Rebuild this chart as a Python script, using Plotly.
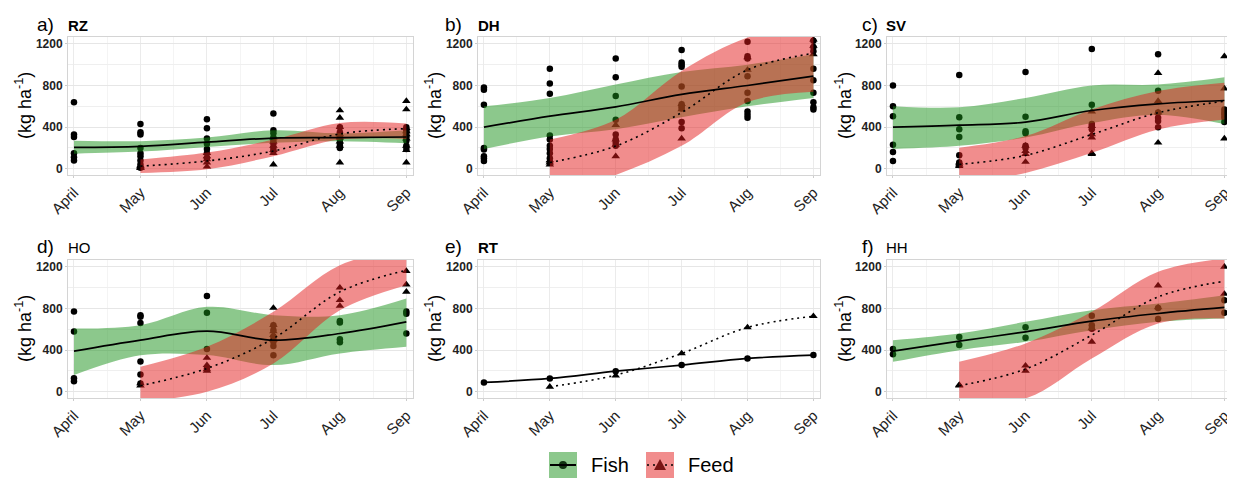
import plotly.graph_objects as go

# page body has an 8px margin: figure pixel = page pixel - OFF
OFF = 8
W, H = 1227, 472

# ---------------- data ----------------
months = ["April", "May", "Jun", "Jul", "Aug", "Sep"]
fish_x = [0, 1, 2, 3, 4, 5]
feed_x = [1, 2, 3, 4, 5]
y_ticks = [0, 400, 800, 1200]
y_tick_text = ["0", "400", "800", "1200"]

panel_letters = ["a)", "b)", "c)", "d)", "e)", "f)"]
panel_names = ["RZ", "DH", "SV", "HO", "RT", "HH"]
panel_name_bold = [True, True, True, False, True, False]

# RZ
rz_fish_pts = [[640, 330, 305, 150, 110, 80], [430, 350, 330, 200, 150, 120, 80, 40, 10],
               [475, 390, 290, 240, 190, 150, 100], [530, 370, 340, 300, 270, 240, 200, 170],
               [400, 350, 320, 300, 280, 250, 220, 200], [400, 370, 350, 320, 300, 270, 220, 190]]
rz_feed_pts = [[30, 20, 10, 5], [150, 120, 90, 60, 20], [300, 260, 220, 180, 150, 40],
               [560, 490, 400, 330, 300, 260, 220, 60], [650, 570, 390, 360, 330, 290, 220, 180, 60]]
rz_fish_mean = [205, 215, 255, 295, 300, 305]
rz_fish_lo = [145, 165, 210, 250, 265, 245]
rz_fish_hi = [270, 265, 300, 370, 340, 370]
rz_feed_mean = [25, 75, 170, 335, 385]
rz_feed_lo = [-40, -5, 120, 280, 285]
rz_feed_hi = [90, 155, 280, 440, 435]

# DH
dh_fish_pts = [[780, 760, 615, 200, 185, 120, 100, 75], [960, 820, 720, 320, 280, 220, 190, 150, 100, 60],
               [1060, 880, 700, 470, 330, 280, 250, 220], [1140, 1020, 1000, 980, 790, 620, 600, 580, 450, 390],
               [1220, 1080, 1060, 890, 730, 650, 550, 520, 490], [1230, 1170, 1130, 960, 850, 730, 640, 590, 570]]
dh_feed_pts = [[80, 60, 40], [420, 280, 230, 120], [620, 570, 290], [1070, 950], [1240, 1180, 1100]]
dh_fish_mean = [400, 505, 595, 714, 800, 890]
dh_fish_lo = [190, 310, 380, 495, 600, 680]
dh_fish_hi = [600, 680, 810, 930, 1000, 1100]
dh_feed_mean = [60, 218, 540, 950, 1110]
dh_feed_lo = [-250, -60, 220, 640, 740]
dh_feed_hi = [280, 470, 940, 1260, 1400]

# SV
sv_fish_pts = [[800, 600, 505, 230, 160, 75], [900, 495, 380, 305, 130, 60, 35],
               [930, 500, 360, 340, 220, 200], [1150, 615, 430, 410, 380],
               [1100, 750, 540, 490, 460, 400], [570, 540, 520, 490, 450]]
sv_feed_pts = [[60, 40, 25], [220, 170, 140, 65], [550, 410, 330, 300, 150, 140],
               [920, 650, 540, 250], [1080, 770, 290]]
sv_fish_mean = [400, 419, 448, 560, 624, 656]
sv_fish_lo = [190, 220, 300, 440, 520, 430]
sv_fish_hi = [600, 590, 680, 800, 810, 880]
sv_feed_mean = [42, 128, 330, 538, 650]
sv_feed_lo = [-150, -40, 154, 378, 474]
sv_feed_hi = [202, 314, 570, 746, 826]

# HO
ho_fish_pts = [[770, 580, 130, 100], [735, 720, 660, 290, 165, 80], [920, 760, 410, 220],
               [640, 590, 530, 500, 480, 440, 350], [680, 665, 505, 475], [770, 750, 560]]
ho_feed_pts = [[80, 60], [325, 255, 215, 200], [805, 640, 580, 545, 495], [1000, 880, 825], [1160, 1030, 960]]
ho_fish_mean = [390, 496, 582, 496, 560, 672]
ho_fish_lo = [160, 350, 352, 256, 368, 432]
ho_fish_hi = [608, 640, 816, 736, 736, 896]
ho_feed_mean = [58, 224, 512, 960, 1168]
ho_feed_lo = [-96, 0, 272, 784, 1024]
ho_feed_hi = [240, 432, 768, 1216, 1376]

# RT
rt_fish_pts = [[90], [128], [198], [256], [320], [352]]
rt_feed_pts = [[48], [154], [368], [618], [726]]
rt_fish_mean = [90, 128, 198, 256, 320, 352]
rt_feed_mean = [48, 160, 368, 618, 726]

# HH
hh_fish_pts = [[410, 360], [525, 450], [620, 520], [730, 640, 605], [805, 700], [880, 760]]
hh_feed_pts = [[65, 60], [250, 200], [610, 480], [1020, 810], [1200, 940]]
hh_fish_mean = [390, 486, 576, 678, 752, 810]
hh_fish_lo = [288, 400, 480, 592, 672, 704]
hh_fish_hi = [496, 560, 672, 784, 848, 928]
hh_feed_mean = [58, 218, 544, 912, 1062]
hh_feed_lo = [-96, -64, 320, 656, 704]
hh_feed_hi = [288, 464, 768, 1152, 1280]

panels = [
    dict(fp=rz_fish_pts, dp=rz_feed_pts, fm=rz_fish_mean, fl=rz_fish_lo, fh=rz_fish_hi,
         dm=rz_feed_mean, dl=rz_feed_lo, dh=rz_feed_hi),
    dict(fp=dh_fish_pts, dp=dh_feed_pts, fm=dh_fish_mean, fl=dh_fish_lo, fh=dh_fish_hi,
         dm=dh_feed_mean, dl=dh_feed_lo, dh=dh_feed_hi),
    dict(fp=sv_fish_pts, dp=sv_feed_pts, fm=sv_fish_mean, fl=sv_fish_lo, fh=sv_fish_hi,
         dm=sv_feed_mean, dl=sv_feed_lo, dh=sv_feed_hi),
    dict(fp=ho_fish_pts, dp=ho_feed_pts, fm=ho_fish_mean, fl=ho_fish_lo, fh=ho_fish_hi,
         dm=ho_feed_mean, dl=ho_feed_lo, dh=ho_feed_hi),
    dict(fp=rt_fish_pts, dp=rt_feed_pts, fm=rt_fish_mean, fl=None, fh=None,
         dm=rt_feed_mean, dl=None, dh=None),
    dict(fp=hh_fish_pts, dp=hh_feed_pts, fm=hh_fish_mean, fl=hh_fish_lo, fh=hh_fish_hi,
         dm=hh_feed_mean, dl=hh_feed_lo, dh=hh_feed_hi),
]

# ---------------- styling ----------------
FONT = "Arial, Liberation Sans, sans-serif"
GREEN = "rgba(25,145,25,0.5)"
RED = "rgba(228,28,28,0.5)"
GREEN_KEY = "rgb(140,200,140)"
RED_KEY = "rgb(241,141,141)"
DOT = "2px,4px"

# positions in page pixels (reference picture)
col_px = [(68, 413), (478, 820), (887, 1231)]
row_px = [(37, 175), (260, 398)]
ytitle_x = [23, 433, 843]
letter_x = [35, 443, 860]
name_x = [66, 476, 884]
title_y = [24, 246]


def px(x):
    return (x - OFF) / W


def py(y):
    return 1 - (y - OFF) / H


fig = go.Figure()
layout = dict(
    width=W, height=H, margin=dict(l=0, r=0, t=0, b=0, autoexpand=False),
    plot_bgcolor="white", paper_bgcolor="white", showlegend=False,
    font=dict(family=FONT, color="black"),
)
annotations = []
shapes = []


def flat(xs, pts):
    xx, yy = [], []
    for x, vals in zip(xs, pts):
        for v in vals:
            xx.append(x)
            yy.append(v)
    return xx, yy


for i, p in enumerate(panels):
    r, c = divmod(i, 3)
    k = "" if i == 0 else str(i + 1)
    xa, ya = "x" + k, "y" + k
    x0, x1 = col_px[c]
    y0, y1 = row_px[r]
    layout["xaxis" + k] = dict(
        domain=[px(x0), px(x1)], anchor=ya, range=[-0.09, 5.1], automargin=False,
        tickvals=fish_x, ticktext=months, tickangle=-45,
        tickfont=dict(size=15, color="#222222"),
        showgrid=True, gridcolor="#ebebeb", gridwidth=1,
        minor=dict(tickvals=[0.5, 1.5, 2.5, 3.5, 4.5], showgrid=True, gridcolor="#f4f4f4"),
        showline=True, mirror=True, linecolor="#d4d4d4", linewidth=1,
        ticks="outside", ticklen=2, tickcolor="#cccccc", zeroline=False,
    )
    layout["yaxis" + k] = dict(
        domain=[py(y1), py(y0)], anchor=xa, range=[-60, 1266], automargin=False,
        tickvals=y_ticks, ticktext=y_tick_text,
        tickfont=dict(size=12, color="#222222", family=FONT, weight="bold"),
        showgrid=True, gridcolor="#e6e6e6", gridwidth=1,
        minor=dict(tickvals=[200, 600, 1000], showgrid=True, gridcolor="#efefef"),
        showline=True, mirror=True, linecolor="#d4d4d4", linewidth=1,
        ticks="outside", ticklen=2, tickcolor="#cccccc", zeroline=False,
    )

    # points (under the ribbons, as in the original)
    fx, fy = flat(fish_x, p["fp"])
    fig.add_trace(go.Scatter(x=fx, y=fy, mode="markers", xaxis=xa, yaxis=ya,
                             marker=dict(symbol="circle", size=6.5, color="black"), name="Fish"))
    dx, dy = flat(feed_x, p["dp"])
    fig.add_trace(go.Scatter(x=dx, y=dy, mode="markers", xaxis=xa, yaxis=ya,
                             marker=dict(symbol="triangle-up", size=7.5, color="black"), name="Feed"))

    # ribbons
    if p["fl"] is not None:
        fig.add_trace(go.Scatter(x=fish_x, y=p["fl"], mode="lines", xaxis=xa, yaxis=ya,
                                 line=dict(width=0, shape="spline", color="rgba(0,0,0,0)"),
                                 hoverinfo="skip"))
        fig.add_trace(go.Scatter(x=fish_x, y=p["fh"], mode="lines", xaxis=xa, yaxis=ya,
                                 line=dict(width=0, shape="spline", color="rgba(0,0,0,0)"),
                                 fill="tonexty", fillcolor=GREEN, hoverinfo="skip"))
    if p["dl"] is not None:
        fig.add_trace(go.Scatter(x=feed_x, y=p["dl"], mode="lines", xaxis=xa, yaxis=ya,
                                 line=dict(width=0, shape="spline", color="rgba(0,0,0,0)"),
                                 hoverinfo="skip"))
        fig.add_trace(go.Scatter(x=feed_x, y=p["dh"], mode="lines", xaxis=xa, yaxis=ya,
                                 line=dict(width=0, shape="spline", color="rgba(0,0,0,0)"),
                                 fill="tonexty", fillcolor=RED, hoverinfo="skip"))

    # smooth lines
    fig.add_trace(go.Scatter(x=fish_x, y=p["fm"], mode="lines", xaxis=xa, yaxis=ya,
                             line=dict(color="black", width=1.7, shape="spline")))
    fig.add_trace(go.Scatter(x=feed_x, y=p["dm"], mode="lines", xaxis=xa, yaxis=ya,
                             line=dict(color="black", width=1.6, dash=DOT, shape="spline")))

    # y-axis title
    annotations.append(dict(
        xref="paper", yref="paper", x=px(ytitle_x[c]), y=py((y0 + y1) / 2),
        text="(kg ha<sup>-1</sup>)", textangle=-90, showarrow=False,
        xanchor="center", yanchor="middle", font=dict(size=18, color="black")))
    # panel title
    annotations.append(dict(
        xref="paper", yref="paper", x=px(letter_x[c]), y=py(title_y[r]),
        text=panel_letters[i], showarrow=False, xanchor="left", yanchor="middle",
        font=dict(size=19, color="black")))
    nm = "<b>%s</b>" % panel_names[i] if panel_name_bold[i] else panel_names[i]
    annotations.append(dict(
        xref="paper", yref="paper", x=px(name_x[c]), y=py(title_y[r] + 1),
        text=nm, showarrow=False, xanchor="left", yanchor="middle",
        font=dict(size=15, color="black")))

# ---------------- legend (drawn) ----------------
legend_y = 465
# Fish key
shapes.append(dict(type="rect", xref="paper", yref="paper", x0=px(549), x1=px(577),
                   y0=py(452), y1=py(478), fillcolor=GREEN_KEY, line=dict(width=0)))
shapes.append(dict(type="circle", xref="paper", yref="paper", x0=px(559), x1=px(567),
                   y0=py(469), y1=py(461), fillcolor="#113311", line=dict(width=0)))
shapes.append(dict(type="line", xref="paper", yref="paper", x0=px(550), x1=px(576),
                   y0=py(legend_y), y1=py(legend_y), line=dict(color="black", width=2)))
# Feed key
shapes.append(dict(type="rect", xref="paper", yref="paper", x0=px(646), x1=px(674),
                   y0=py(452), y1=py(478), fillcolor=RED_KEY, line=dict(width=0)))
shapes.append(dict(type="line", xref="paper", yref="paper", x0=px(647), x1=px(673),
                   y0=py(legend_y), y1=py(legend_y), line=dict(color="black", width=1.5, dash=DOT)))
shapes.append(dict(type="path", xref="paper", yref="paper",
                   path="M %f,%f L %f,%f L %f,%f Z" % (px(654), py(470), px(666), py(470), px(660), py(459)),
                   fillcolor="#7a1414", line=dict(width=0)))
annotations.append(dict(xref="paper", yref="paper", x=px(589), y=py(legend_y), text="Fish",
                        showarrow=False, xanchor="left", yanchor="middle", font=dict(size=20, color="black")))
annotations.append(dict(xref="paper", yref="paper", x=px(686), y=py(legend_y), text="Feed",
                        showarrow=False, xanchor="left", yanchor="middle", font=dict(size=20, color="black")))

layout["annotations"] = annotations
layout["shapes"] = shapes
fig.update_layout(**layout)
fig.write_html("out.html")
